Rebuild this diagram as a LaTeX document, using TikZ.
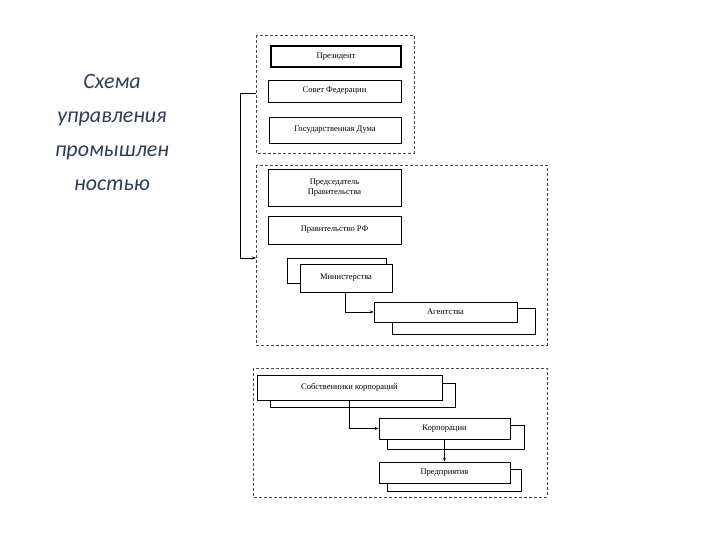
\documentclass[tikz,border=0pt]{standalone}
\usepackage{fontspec}
\setmainfont{Liberation Serif}
\newfontfamily\titlefont{Carlito}
\usetikzlibrary{arrows.meta}
\definecolor{titlecol}{HTML}{2B3F5C}
\begin{document}
\begin{tikzpicture}[x=1pt,y=-1pt,
  grp/.style={draw=black!70,densely dashed,line width=0.6pt},
  bx/.style={draw,fill=white,line width=0.7pt,font=\fontsize{8.5}{9.5}\selectfont,align=center},
  conn/.style={line width=0.7pt,-{Stealth[length=4pt,width=3pt]}}]
\useasboundingbox (0,0) rectangle (720,540);
\node[font=\titlefont\itshape\fontsize{22}{34}\selectfont,text=titlecol,align=center] (title) at (112,132) {Схема\\управления\\промышлен\\ностью};
% group 1
\draw[grp] (256,35) rectangle (414,153);
\node[bx,line width=1.4pt,minimum width=130pt,minimum height=21pt] (pres) at (336,56.5) {Президент};
\node[bx,minimum width=133pt,minimum height=22pt] (sf) at (334.5,91) {Совет Федерации};
\node[bx,minimum width=132pt,minimum height=26pt] (gd) at (335,130) {Государственная Дума};
% group 2
\draw[grp] (256,165) rectangle (547,345);
\node[bx,minimum width=133pt,minimum height=37pt] (pp) at (334.5,187.5) {Председатель\\Правительства};
\node[bx,minimum width=133pt,minimum height=28pt] (prf) at (334.5,230) {Правительство РФ};
\node[bx,minimum width=99pt,minimum height=25pt] (minb) at (336.5,270.5) {};
\node[bx,minimum width=92pt,minimum height=28pt] (min) at (346,278) {Министерства};
\node[bx,minimum width=143pt,minimum height=26pt] (agb) at (463.5,321) {};
\node[bx,minimum width=143pt,minimum height=20pt] (ag) at (445.5,312) {Агентства};
\coordinate (c1) at (256,93);
\coordinate (c2) at (256,258);
\draw[conn] (c1) -- (240,93) -- (240,258) -- (c2);
\draw[conn] (min.south -| 345,0) -- (345,312) -- (ag.west);
% group 3
\draw[grp] (253,368) rectangle (547,497);
\node[bx,minimum width=185pt,minimum height=24pt] (sobb) at (362.5,395) {};
\node[bx,minimum width=185pt,minimum height=25pt] (sob) at (349.5,387.5) {Собственники корпораций};
\node[bx,minimum width=137pt,minimum height=24pt] (korb) at (455.5,437) {};
\node[bx,minimum width=131pt,minimum height=21pt] (kor) at (444.5,428.5) {Корпорации};
\node[bx,minimum width=134pt,minimum height=22pt] (prb) at (454,480) {};
\node[bx,minimum width=131pt,minimum height=21pt] (pr) at (444.5,472.5) {Предприятия};
\draw[conn] (sob.south -| 349,0) -- (349,428.5) -- (kor.west);
\draw[conn] (kor.south) -- (pr.north);
\end{tikzpicture}
\end{document}
